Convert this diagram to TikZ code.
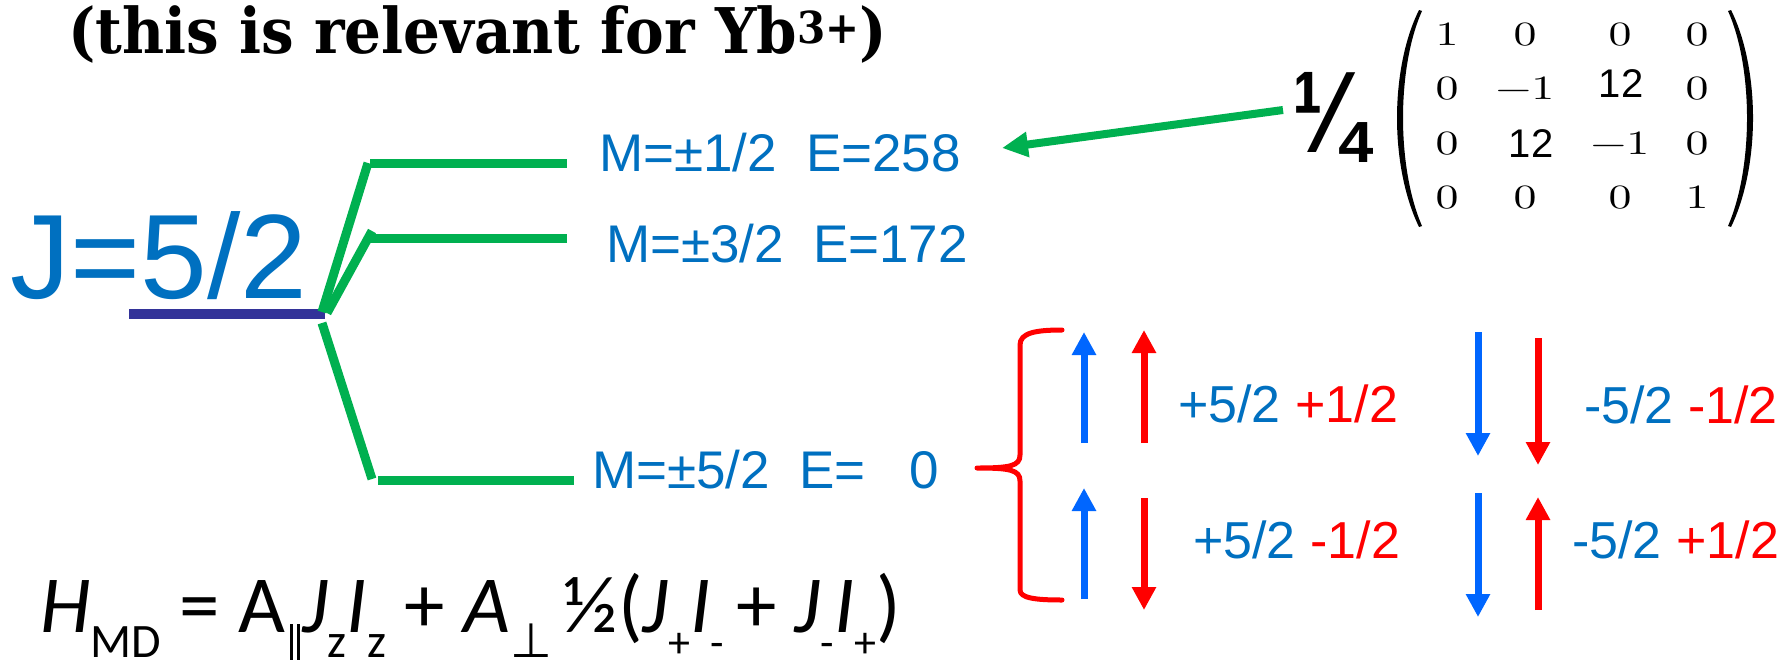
\documentclass[tikz,border=0pt]{standalone}
\usepackage{fontspec}
\usetikzlibrary{arrows.meta}
\newfontfamily\arialf{Liberation Sans}
\newfontfamily\titlef{DejaVu Serif}
\newfontfamily\calibf{Carlito}
\newfontfamily\dejaf{DejaVu Sans}
\newfontfamily\lmten{lmroman10-regular}[Extension=.otf]
\definecolor{tblue}{HTML}{0070C0}
\definecolor{ablue}{HTML}{0066FF}
\definecolor{gr}{HTML}{00B050}
\definecolor{rd}{HTML}{FF0000}
\definecolor{darkbar}{HTML}{333399}
\newcommand\fsub[1]{\raisebox{-25pt}{\fontsize{48}{50}\selectfont #1}}
\newcommand\ssub[1]{\raisebox{-25pt}{\fontsize{44}{50}\selectfont #1}}
\newcommand\parbar{\rule[-36pt]{3pt}{44pt}\hspace{4pt}\rule[-36pt]{3pt}{44pt}}
\newcommand\ment[1]{\scalebox{1.35}[1]{#1}}
\tikzset{
  lbl/.style={anchor=base west, inner sep=0, text=tblue, font=\arialf\fontsize{53}{60}\selectfont},
  spin/.style={anchor=base west, inner sep=0, font=\arialf\fontsize{52}{60}\selectfont},
  ent/.style={anchor=base, inner sep=0, font=\lmten\fontsize{34}{40}\selectfont},
  twelve/.style={anchor=base, inner sep=0, font=\arialf\fontsize{40}{44}\selectfont},
  level/.style={gr, line width=9pt},
  sarrow/.style={line width=7pt, -{Triangle[width=23pt,length=23pt]}},
}
\begin{document}
\begin{tikzpicture}[x=1pt,y=-1pt]
\fill[white] (0,0) rectangle (1790,659);
\useasboundingbox (0,0) rectangle (1790,659);

% title
\node[anchor=base west, inner sep=0, font=\titlef\bfseries\fontsize{63}{70}\selectfont] (title) at (68,53) {\scalebox{0.92}[1]{(this is relevant for Yb\textsuperscript{3+})}};

% J = 5/2 level
\node[anchor=base west, inner sep=0, text=tblue, font=\arialf\fontsize{120}{130}\selectfont] (J) at (10,298) {J=5/2};
\draw[darkbar, line width=10pt] (129,314) -- (325,314);

% splitting
\coordinate (b1) at (322,312); \coordinate (t1) at (368,163);
\coordinate (b2) at (327,313); \coordinate (t2) at (372,231);
\coordinate (b3) at (322,323); \coordinate (t3) at (372,479);
\draw[level] (b1) -- (t1);
\draw[level] (b2) -- (t2);
\draw[level] (b3) -- (t3);
\draw[level] (370,163) -- (567,163);
\draw[level] (370,238) -- (567,238);
\draw[level] (378,480) -- (574,480);

\node[lbl] (m1) at (599,171) {M=±1/2\hspace{0.55em}E=258};
\node[lbl] (m2) at (606,262) {M=±3/2\hspace{0.55em}E=172};
\node[lbl] (m3) at (592,488) {M=±5/2\hspace{0.55em}E=\hspace{0.83em}0};

% quarter and matrix
\node[anchor=base west, inner sep=0] (q) at (1292,152) {\resizebox{75pt}{80pt}{\arialf\bfseries ¼}};
\coordinate (qa) at (1283,110);
\coordinate (ma) at (1002,148);
\draw[gr, line width=8pt, -{Triangle[width=24pt,length=26pt]}] (qa) -- (ma);

\fill (1419,10) .. controls (1404,40) and (1397,80) .. (1397,118)
  .. controls (1397,156) and (1404,196) .. (1419,227) -- (1422,226)
  .. controls (1409,196) and (1403,156) .. (1403,118)
  .. controls (1403,80) and (1409,40) .. (1422,11) -- cycle;
\fill (1731,10) .. controls (1746,40) and (1753,80) .. (1753,118)
  .. controls (1753,156) and (1746,196) .. (1731,227) -- (1728,226)
  .. controls (1741,196) and (1747,156) .. (1747,118)
  .. controls (1747,80) and (1741,40) .. (1728,11) -- cycle;

\node[ent] (a11) at (1447,45) {\ment{1}};
\node[ent] (a12) at (1525,45) {\ment{0}};
\node[ent] (a13) at (1620,45) {\ment{0}};
\node[ent] (a14) at (1697,45) {\ment{0}};
\node[ent] (a21) at (1447,99) {\ment{0}};
\node[ent] (a22) at (1525,99) {\ment{−1}};
\node[twelve] (a23) at (1621,97) {12};
\node[ent] (a24) at (1697,99) {\ment{0}};
\node[ent] (a31) at (1447,154) {\ment{0}};
\node[twelve] (a32) at (1531,157) {12};
\node[ent] (a33) at (1620,154) {\ment{−1}};
\node[ent] (a34) at (1697,154) {\ment{0}};
\node[ent] (a41) at (1447,208) {\ment{0}};
\node[ent] (a42) at (1525,208) {\ment{0}};
\node[ent] (a43) at (1620,208) {\ment{0}};
\node[ent] (a44) at (1697,208) {\ment{1}};

% brace
\draw[rd, line width=5pt, line cap=round, line join=round]
  (1062,330) .. controls (1035,330) and (1020,333) .. (1020,345) -- (1020,455)
  .. controls (1020,466) and (1010,468) .. (977,468)
  .. controls (1010,468) and (1020,470) .. (1020,481) -- (1020,590)
  .. controls (1020,598) and (1035,600) .. (1062,600);

% spin arrows
\draw[sarrow, ablue] (1084,443) -- (1084,332);
\draw[sarrow, rd] (1144,443) -- (1144,330);
\draw[sarrow, ablue] (1084,599) -- (1084,488);
\draw[sarrow, rd] (1144,498) -- (1144,610);
\draw[sarrow, ablue] (1478,332) -- (1478,456);
\draw[sarrow, rd] (1538,338) -- (1538,465);
\draw[sarrow, ablue] (1478,493) -- (1478,617);
\draw[sarrow, rd] (1538,610) -- (1538,497);

\node[spin] (s1) at (1178,422) {\textcolor{tblue}{+5/2} \textcolor{rd}{+1/2}};
\node[spin] (s2) at (1193,558) {\textcolor{tblue}{+5/2} \textcolor{rd}{-1/2}};
\node[spin] (s3) at (1584,423) {\textcolor{tblue}{-5/2} \textcolor{rd}{-1/2}};
\node[spin] (s4) at (1572,558) {\textcolor{tblue}{-5/2} \textcolor{rd}{+1/2}};

% Hamiltonian
\node[anchor=base west, inner sep=0, font=\calibf\fontsize{81}{90}\selectfont] (H) at (40,632)
  {\textit{H}\fsub{MD} = A\hspace{5pt}\parbar\hspace{2pt}\textit{J}\fsub{z}\textit{I}\fsub{z} + \textit{A}\fsub{\dejaf ⊥}\hspace{12pt}½(\textit{J}\ssub{+}\textit{I}\ssub{-}\hspace{12pt}+\hspace{18pt}\textit{J}\ssub{-}\textit{I}\ssub{+})};
\end{tikzpicture}
\end{document}
